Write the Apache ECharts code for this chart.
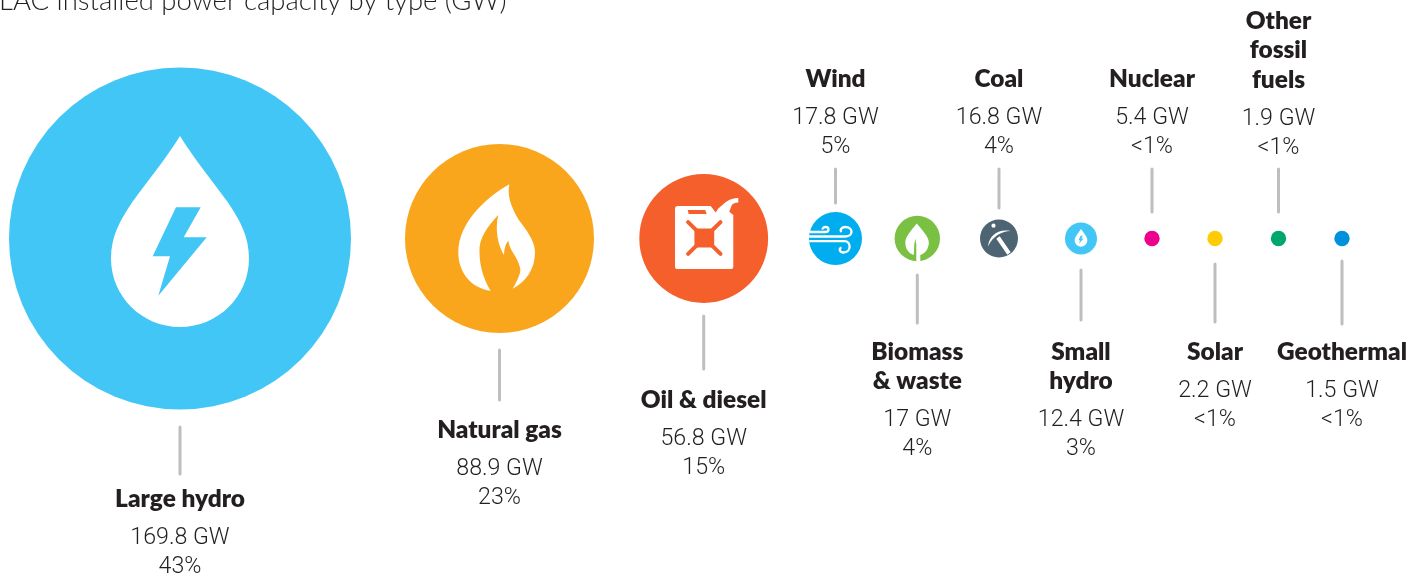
<!DOCTYPE html>
<html>
<head>
<meta charset="utf-8">
<style>
  html, body { margin: 0; padding: 0; background: #fff; }
  #chart { width: 1426px; height: 579px; }
</style>
<script src="https://cdn.jsdelivr.net/npm/echarts@6/dist/echarts.min.js"></script>
</head>
<body>
<div id="chart"></div>
<script>
const titleText = 'LAC installed power capacity by type (GW)';
const categories = ['Large hydro', 'Natural gas', 'Oil & diesel', 'Wind', 'Biomass & waste', 'Coal', 'Small hydro', 'Nuclear', 'Solar', 'Other fossil fuels', 'Geothermal'];
const capacityGW = [169.8, 88.9, 56.8, 17.8, 17, 16.8, 12.4, 5.4, 2.2, 1.9, 1.5];
const shares = ['43%', '23%', '15%', '5%', '4%', '4%', '3%', '<1%', '<1%', '<1%', '<1%'];

// bubble look, same order as categories
const colors = ['#41C6F6', '#F9A61C', '#F45F2B', '#00AEEF', '#7AC143', '#4D6472', '#41C6F6', '#EC008C', '#FFCB05', '#00A76D', '#0091DA'];
const xSlots = [180, 499.5, 703.7, 835.5, 917.3, 999, 1081, 1152, 1215, 1278.5, 1342];
const radii = [171, 94.5, 64.4, 26.5, 22.7, 19, 16, 7.7, 7.7, 7.7, 7.7];
const AXIS_Y = 238.5;

// name lines, and where leader and text sit: [leader from, leader to, first text line centre]
const nameLines = [['Large hydro'], ['Natural gas'], ['Oil & diesel'], ['Wind'], ['Biomass', '& waste'], ['Coal'], ['Small', 'hydro'], ['Nuclear'], ['Solar'], ['Other', 'fossil', 'fuels'], ['Geothermal']];
const leaders = [[427, 474, 499], [350, 400, 430], [316, 369, 400], [203, 169, 79], [275, 323, 352], [208, 169, 79], [270, 320, 352], [212, 169, 79], [264, 322, 352], [212, 169, 21], [261, 324, 352]];

const dropPath = 'M0,-102.5 C-14,-80 -32,-58 -48,-36 C-60,-18 -69,-2 -69,20 C-69,58 -38,88.5 0,88.5 C38,88.5 69,58 69,20 C69,-2 60,-18 48,-36 C32,-58 14,-80 0,-102.5 Z';
const boltPath = 'M-4,-31.2 L20.7,-31.2 L3.7,-1.2 L26.7,-1.2 L-21.7,57.2 L-10,17.8 L-27.3,17.8 Z';
const flamePath = 'M9.8,-54.2 C7,-40 14,-28 19,-19 C27,-8 35.5,2 35.5,14 C35.5,30 27,43 13.2,50.2 C19,40 22,33 20.5,29 C18,18 10,12 8.8,2.2 C5,7 5,11 4.5,16.5 C-1,8 -5,-8 -1.2,-23.5 C-12,-12 -21,0 -20,14 C-20,28 -15,43 -8.8,52.2 C-28,50 -41.2,34 -41.2,14 C-41.2,-15 -15,-40 9.8,-54.2 Z';
const canPath = 'M-26,-32.4 L7,-32.4 L12,-26 L14.6,-30 C18,-33 20,-35 23,-37 C26,-39 30,-40.5 34.6,-40.5 L34.6,-36 C31,-36 28.5,-35 27.5,-32 L25.6,-26.7 L29.6,-23.4 L29.6,28 Q29.6,30.6 27,30.6 L-26,30.6 Q-28.7,30.6 -28.7,28 L-28.7,-29.8 Q-28.7,-32.4 -26,-32.4 Z';

// icon layers drawn over the bubble; base means the bubble colour
const icons = {
  0: { scale: 1, parts: [{ d: dropPath, fill: '#fff' }, { d: boltPath, fill: 'base' }] },
  1: { scale: 1, parts: [{ d: flamePath, fill: '#fff' }] },
  2: { scale: 1, parts: [
    { d: canPath, fill: '#fff' },
    { d: 'M-16,-28.4 L1.5,-28.4 L3,-24.4 L-15,-24.4 Z', fill: 'base' },
    { d: 'M-9.3,-10 L10.5,-10 L10.5,9 L-9.3,9 Z', fill: 'base' },
    { d: 'M-15.6,-16.4 L16.8,15.4 M16.8,-16.4 L-15.6,15.4', stroke: 'base', width: 4 }
  ] },
  3: { scale: 1, parts: [
    { d: 'M-25.7,-6.5 L-10,-6.5 C-6,-6.5 -6,-11.5 -10,-11.5 C-12,-11.5 -13,-10 -13,-9', stroke: '#fff', width: 2.3 },
    { d: 'M-26.4,-2 L10,-2 C18,-2 18,-11.5 10,-11.5 C6,-11.5 4,-8.5 6,-6.5', stroke: '#fff', width: 2.3 },
    { d: 'M-26.2,2.6 L9,2.6 C16,2.6 16,14 8,14 C4,14 3,10 6,9', stroke: '#fff', width: 2.3 }
  ] },
  4: { scale: 1, parts: [
    { d: 'M-0.5,-15 C-6,-8 -12,-2 -12,4 C-12,11 -8,15 -3.5,16.5 L-3,6 L-2,0 L-1,6 L-1,22.7 L3,22.7 L3,16.5 C8,15 11.5,10 11.5,4 C11.5,-2 5,-8 -0.5,-15 Z', fill: '#fff' }
  ] },
  5: { scale: 1, parts: [
    { d: 'M-5.5,-10.7 A2.1,2.1 0 1 1 -5.49,-10.7 Z', fill: '#fff' },
    { d: 'M-11,8 C-10,-2 -2,-10 11.5,-7.5 C3,-7 -6,-3 -11,8 Z', fill: '#fff' },
    { d: 'M-1,-1 L10,15', stroke: '#fff', width: 4 }
  ] },
  6: { scale: 0.092, parts: [{ d: dropPath, fill: '#fff' }, { d: boltPath, fill: 'base' }] }
};

const NAME_GAP = 29.6;
const VALUE_GAP = 39;
const PCT_GAP = 29;
const textColor = '#231F20';

function renderBubble(params, api) {
  const i = api.value(2);
  const at = api.coord([api.value(0), api.value(1)]);
  const x = at[0];
  const y = at[1];
  const color = colors[i];
  const kids = [{ type: 'circle', shape: { cx: x, cy: y, r: radii[i] }, style: { fill: color } }];

  const icon = icons[i];
  if (icon) {
    icon.parts.forEach(function (p) {
      const paint = p.stroke
        ? { fill: null, stroke: p.stroke === 'base' ? color : p.stroke, lineWidth: p.width, lineCap: p.stroke === 'base' ? 'round' : 'butt' }
        : { fill: p.fill === 'base' ? color : p.fill };
      kids.push({ type: 'path', x: x, y: y, scaleX: icon.scale, scaleY: icon.scale, shape: { pathData: p.d }, style: paint });
    });
  }

  const lead = leaders[i];
  kids.push({ type: 'line', shape: { x1: x, y1: lead[0], x2: x, y2: lead[1] }, style: { stroke: '#BCBEC0', lineWidth: 3, lineCap: 'round' } });

  let ty = lead[2];
  nameLines[i].forEach(function (line, n) {
    kids.push({ type: 'text', x: x, y: ty + n * NAME_GAP, style: { text: line, x: 0, y: 0, align: 'center', verticalAlign: 'middle', fill: textColor, font: '800 24.4px Lato' } });
  });
  ty += (nameLines[i].length - 1) * NAME_GAP + VALUE_GAP;
  kids.push({ type: 'text', x: x, y: ty, style: { text: capacityGW[i] + ' GW', x: 0, y: 0, align: 'center', verticalAlign: 'middle', fill: textColor, font: '300 23.2px Roboto' } });
  kids.push({ type: 'text', x: x, y: ty + PCT_GAP, style: { text: shares[i], x: 0, y: 0, align: 'center', verticalAlign: 'middle', fill: textColor, font: '300 23.2px Roboto' } });

  return { type: 'group', children: kids };
}

const chart = echarts.init(document.getElementById('chart'), null, { renderer: 'canvas' });
chart.setOption({
  animation: false,
  backgroundColor: '#fff',
  title: {
    text: titleText,
    left: -6,
    top: -18,
    textStyle: { fontFamily: 'Lato', fontWeight: 300, fontSize: 27.5, color: '#231F20' }
  },
  grid: { left: 0, right: 0, top: 0, bottom: 0 },
  xAxis: { type: 'value', min: 0, max: 1426, show: false },
  yAxis: { type: 'value', min: 0, max: 579, inverse: true, show: false },
  series: [{
    type: 'custom',
    coordinateSystem: 'cartesian2d',
    clip: false,
    renderItem: renderBubble,
    data: categories.map(function (name, i) { return { name: name, value: [xSlots[i], AXIS_Y, i] }; })
  }]
});
</script>
</body>
</html>
